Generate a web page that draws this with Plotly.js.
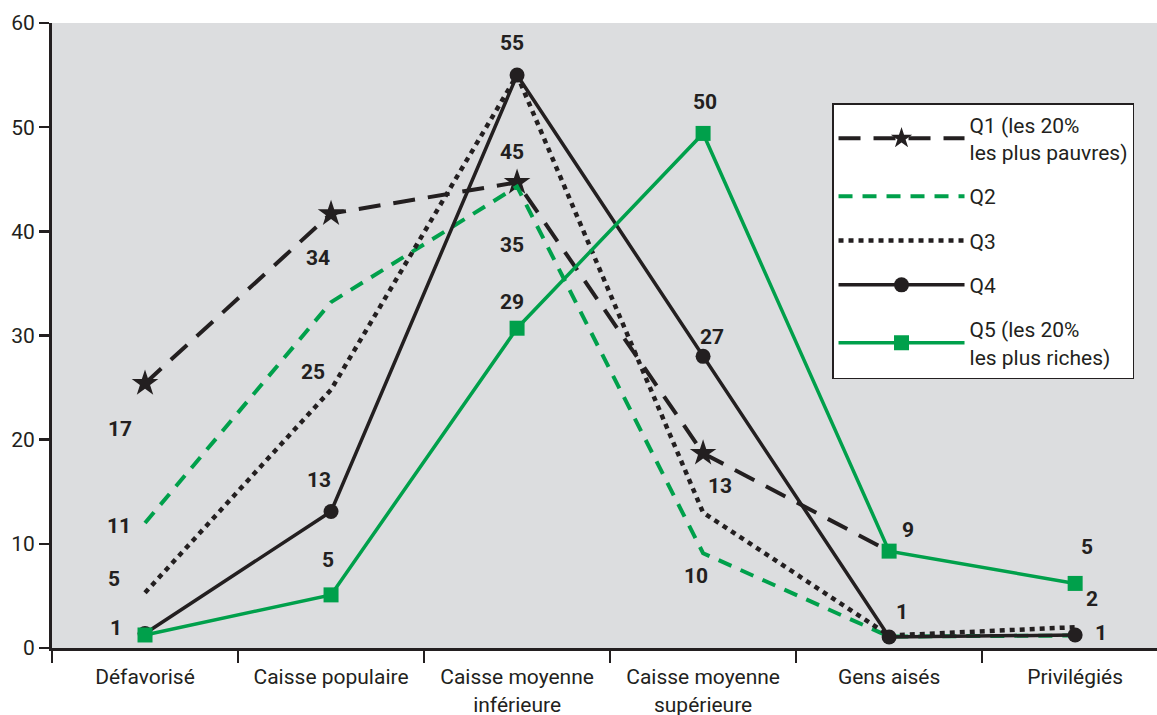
<!DOCTYPE html>
<html>
<head>
<meta charset="utf-8">
<script src="https://cdn.plot.ly/plotly-3.0.1.min.js"></script>
<style>html,body{margin:0;padding:0;background:#fff;}#chart{width:1157px;height:715px;}</style>
</head>
<body>
<div id="chart"></div>
<script>
// Categories
const categories = ["Défavorisé", "Caisse populaire", "Caisse moyenne<br>inférieure", "Caisse moyenne<br>supérieure", "Gens aisés", "Privilégiés"];

// Series values (as plotted)
const q1 = [25.4, 41.7, 44.7, 18.7, 9.3, null];
const q2 = [12.0, 33.2, 44.3, 9.1, 1.1, 1.2];
const q3 = [5.3, 24.8, 55.0, 13.0, 1.2, 2.0];
const q4 = [1.4, 13.1, 55.0, 28.0, 1.05, 1.25];
const q5 = [1.25, 5.1, 30.7, 49.4, 9.3, 6.2];

// Series names
const names = ["Q1 (les 20%<br>les plus pauvres)", "Q2", "Q3", "Q4", "Q5 (les 20%<br>les plus riches)"];

// Data labels printed on the chart (text, category index position, y position)
const labelText = ["17","11","5","1","34","25","13","5","55","45","35","29","50","27","13","10","9","1","5","2","1"];
const labelX = [-0.134,-0.14,-0.167,-0.156,0.93,0.903,0.935,0.984,1.973,1.973,1.973,1.973,3.011,3.048,3.091,2.962,4.102,4.07,5.065,5.091,5.14];
const labelY = [21.0,11.7,6.6,1.9,37.4,26.5,16.1,8.45,58.1,47.6,38.7,33.2,52.4,29.9,15.6,6.9,11.3,3.46,9.7,4.7,1.44];

const BLACK = "#231f20";
const GREEN = "#00a04b";
const FONT = "Roboto, sans-serif";

const traces = [
  {x: categories, y: q1, name: names[0], legendgroup: "a", mode: "lines+markers",
   line: {color: BLACK, width: 4, dash: "22px,13px"},
   marker: {symbol: ["star", "star", "star", "star", "line-ew", "line-ew"], size: 20, color: BLACK,
            line: {width: 0, color: BLACK}}},
  {x: categories, y: q2, name: names[1], legendgroup: "b", mode: "lines",
   line: {color: GREEN, width: 4, dash: "14px,10px"}},
  {x: categories, y: q3, name: names[2], legendgroup: "c", mode: "lines",
   line: {color: BLACK, width: 4.5, dash: "5px,5px"}},
  {x: categories, y: q4, name: names[3], legendgroup: "d", mode: "lines+markers",
   line: {color: BLACK, width: 3.5},
   marker: {symbol: "circle", size: 15, color: BLACK}},
  {x: categories, y: q5, name: names[4], legendgroup: "e", mode: "lines+markers",
   line: {color: GREEN, width: 3.5},
   marker: {symbol: "square", size: 15, color: GREEN}}
];
traces.forEach(t => { t.cliponaxis = false; t.hoverinfo = "skip"; });

const annotations = labelText.map((t, i) => ({
  x: labelX[i], y: labelY[i], xref: "x", yref: "y", text: "<b>" + t + "</b>",
  showarrow: false, font: {family: FONT, size: 21, color: BLACK},
  xanchor: "center", yanchor: "middle"
}));

const layout = {
  width: 1157, height: 715,
  margin: {l: 52, r: 0, t: 23, b: 67},
  paper_bgcolor: "#ffffff",
  plot_bgcolor: "#dcdddf",
  font: {family: FONT, size: 21, color: BLACK},
  showlegend: true,
  legend: {
    x: 0.7059, y: 0.872, xanchor: "left", yanchor: "top",
    bgcolor: "#ffffff", bordercolor: BLACK, borderwidth: 1.5,
    font: {family: FONT, size: 21, color: BLACK},
    tracegroupgap: 14, itemwidth: 126
  },
  xaxis: {
    type: "category", range: [-0.5, 5.44],
    showline: true, linecolor: BLACK, linewidth: 3,
    ticks: "outside", tickson: "boundaries", ticklen: 12, tickwidth: 2.5, tickcolor: BLACK,
    showgrid: false, zeroline: false, ticklabelstandoff: 8,
    tickfont: {family: FONT, size: 21, color: BLACK}
  },
  yaxis: {
    range: [0, 60], dtick: 10, tick0: 0,
    showline: true, linecolor: BLACK, linewidth: 3,
    ticks: "outside", ticklen: 10, tickwidth: 2.5, tickcolor: BLACK,
    showgrid: false, zeroline: false,
    tickfont: {family: FONT, size: 21, color: BLACK}
  },
  annotations: annotations
};

Plotly.newPlot("chart", traces, layout, {displayModeBar: false, staticPlot: true});
</script>
</body>
</html>
